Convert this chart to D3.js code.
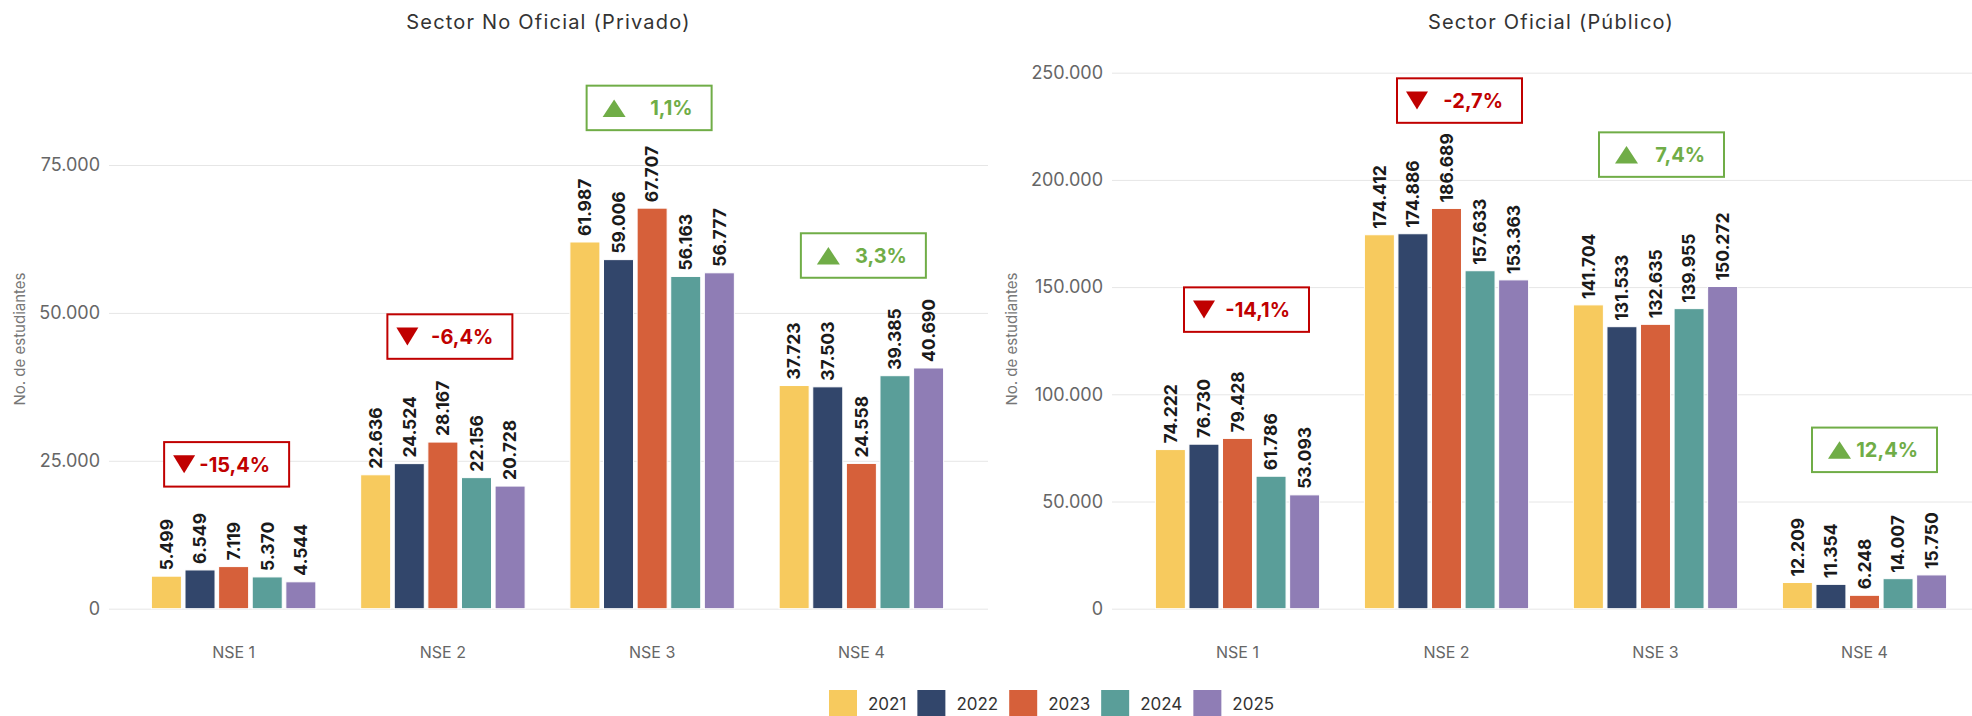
<!DOCTYPE html>
<html>
<head>
<meta charset="utf-8">
<script src="https://cdn.jsdelivr.net/npm/d3@7"></script>
<style>
  body { margin: 0; background: #fff; }
  svg { display: block; font-family: Inter, "Noto Sans", sans-serif; }
</style>
</head>
<body>
<svg id="chart" width="1972" height="716"></svg>
<script>
// categories and years
var categories = ["NSE 1", "NSE 2", "NSE 3", "NSE 4"];
var years = ["2021", "2022", "2023", "2024", "2025"];
var yearColors = ["#F7CA5E", "#32466B", "#D6603A", "#5A9E99", "#8F7DB5"];

// Sector No Oficial (Privado), one array per year, values by NSE
var priv2021 = [5499, 22636, 61987, 37723];
var priv2022 = [6549, 24524, 59006, 37503];
var priv2023 = [7119, 28167, 67707, 24558];
var priv2024 = [5370, 22156, 56163, 39385];
var priv2025 = [4544, 20728, 56777, 40690];

// Sector Oficial (Publico)
var pub2021 = [74222, 174412, 141704, 12209];
var pub2022 = [76730, 174886, 131533, 11354];
var pub2023 = [79428, 186689, 132635, 6248];
var pub2024 = [61786, 157633, 139955, 14007];
var pub2025 = [53093, 153363, 150272, 15750];

// y ticks
var privTicks = [0, 25000, 50000, 75000];
var pubTicks = [0, 50000, 100000, 150000, 200000, 250000];

// where the change boxes sit (value on the y axis, shift from group centre)
var privAnnoAt = [24400, 46000, 84650, 59700];
var privAnnoDx = [-7, 7, -3, 2];
var pubAnnoAt = [139500, 237000, 211800, 74100];
var pubAnnoDx = [9, 13, 6, 10];

var es = d3.formatLocale({decimal: ",", thousands: ".", grouping: [3], currency: ["$", ""], minus: "-"});
var fmtNum = es.format(",d");
var fmtPct = es.format(".1f");

var svg = d3.select("#chart");

var panels = [
  {title: "Sector No Oficial (Privado)", series: [priv2021, priv2022, priv2023, priv2024, priv2025],
   ticks: privTicks, annoAt: privAnnoAt, annoDx: privAnnoDx,
   gridX: [109, 988], bandX: [129, 966], yTitleX: 20},
  {title: "Sector Oficial (Público)", series: [pub2021, pub2022, pub2023, pub2024, pub2025],
   ticks: pubTicks, annoAt: pubAnnoAt, annoDx: pubAnnoDx,
   gridX: [1112, 1990], bandX: [1133, 1969], yTitleX: 1012}
];

var baseY = 608.7;
var topTickY = [165, 72.7];

panels.forEach(function(p, pi) {
    var g = svg.append("g");
    var maxTick = p.ticks[p.ticks.length - 1];

    var y = d3.scaleLinear().domain([0, maxTick]).range([baseY, topTickY[pi]]);
    var x0 = d3.scaleBand().domain(categories).range(p.bandX);
    var x1 = d3.scaleBand().domain(years).range([22.4, x0.step() - 22.4]).paddingInner(0.107);

    // gridlines + tick labels
    var yAxis = d3.axisLeft(y).tickValues(p.ticks).tickFormat(fmtNum)
        .tickSize(-(p.gridX[1] - p.gridX[0])).tickPadding(9);
    var ya = g.append("g").attr("transform", "translate(" + p.gridX[0] + ",0)").call(yAxis);
    ya.select(".domain").remove();
    ya.selectAll(".tick line").attr("stroke", "#e6e6e6");
    ya.selectAll(".tick text").attr("fill", "#666").style("font-size", "18px")
        .attr("font-family", "Inter, sans-serif");

    // x axis labels
    g.selectAll(".xlab").data(categories).enter().append("text")
        .attr("x", function(d) { return x0(d) + x0.bandwidth() / 2; })
        .attr("y", 652)
        .attr("dy", "0.35em")
        .attr("text-anchor", "middle")
        .attr("fill", "#666")
        .style("font-size", "16px")
        .text(function(d) { return d; });

    // title
    g.append("text")
        .attr("x", (p.gridX[0] + p.gridX[1]) / 2)
        .attr("y", 22)
        .attr("dy", "0.35em")
        .attr("text-anchor", "middle")
        .attr("fill", "#333")
        .style("font-size", "20px")
        .style("letter-spacing", "1.2px")
        .text(p.title);

    // y axis title
    g.append("text")
        .attr("transform", "translate(" + p.yTitleX + ",339) rotate(-90)")
        .attr("dy", "0.35em")
        .attr("text-anchor", "middle")
        .attr("fill", "#777")
        .style("font-size", "15px")
        .text("No. de estudiantes");

    // bars
    var groups = g.selectAll(".grp").data(categories).enter().append("g")
        .attr("transform", function(d) { return "translate(" + x0(d) + ",0)"; });

    groups.each(function(cat, ci) {
        var rows = years.map(function(yr, yi) { return {year: yr, yi: yi, v: p.series[yi][ci]}; });
        var gg = d3.select(this);
        gg.selectAll("rect").data(rows).enter().append("rect")
            .attr("x", function(d) { return x1(d.year); })
            .attr("width", x1.bandwidth())
            .attr("y", function(d) { return y(d.v); })
            .attr("height", function(d) { return baseY - y(d.v); })
            .attr("fill", function(d) { return yearColors[d.yi]; })
            .attr("stroke", "#fff")
            .attr("stroke-width", 1);

        gg.selectAll(".vlab").data(rows).enter().append("text")
            .attr("transform", function(d) {
                return "translate(" + (x1(d.year) + x1.bandwidth() / 2) + "," + (y(d.v) - 6) + ") rotate(-90)";
            })
            .attr("dy", "0.36em")
            .attr("fill", "#1a1a1a")
            .style("font-size", "17.5px")
            .style("font-weight", "700")
            .text(function(d) { return fmtNum(d.v); });
    });

    // change 2024 -> 2025 boxes
    categories.forEach(function(cat, ci) {
        var a = p.series[3][ci], b = p.series[4][ci];
        var ch = (b - a) / a * 100;
        var up = ch >= 0;
        var col = up ? "#70AD47" : "#C00000";
        var cx = x0(cat) + x0.bandwidth() / 2 + p.annoDx[ci];
        var cy = y(p.annoAt[ci]);
        var bw = 125, bh = 44.5;
        var left = cx - bw / 2;
        var box = g.append("g");
        box.append("rect")
            .attr("x", left).attr("y", cy - bh / 2)
            .attr("width", bw).attr("height", bh)
            .attr("fill", "#fff").attr("stroke", col).attr("stroke-width", 2);
        var tri;
        if (up) {
            var tl = left + 16;
            tri = [[tl, cy + 9], [tl + 23, cy + 9], [tl + 11.5, cy - 8.5]];
        } else {
            var tl2 = left + 9;
            tri = [[tl2, cy - 9], [tl2 + 22, cy - 9], [tl2 + 11, cy + 9]];
        }
        box.append("path").attr("d", d3.line()(tri) + "Z").attr("fill", col);
        box.append("text")
            .attr("x", left + bw - 19)
            .attr("y", cy)
            .attr("dy", "0.36em")
            .attr("text-anchor", "end")
            .attr("fill", col)
            .style("font-size", "20px")
            .style("font-weight", "700")
            .text(fmtPct(ch) + "%");
    });
});

// legend
var lx = 829;
var leg = svg.append("g");
years.forEach(function(yr, i) {
    leg.append("rect").attr("x", lx).attr("y", 690).attr("width", 28).attr("height", 28)
        .attr("fill", yearColors[i]);
    var t = leg.append("text").attr("x", lx + 39).attr("y", 704).attr("dy", "0.35em")
        .attr("fill", "#333").style("font-size", "17px").text(yr);
    lx = lx + 39 + t.node().getComputedTextLength() + 11;
});
</script>
</body>
</html>
